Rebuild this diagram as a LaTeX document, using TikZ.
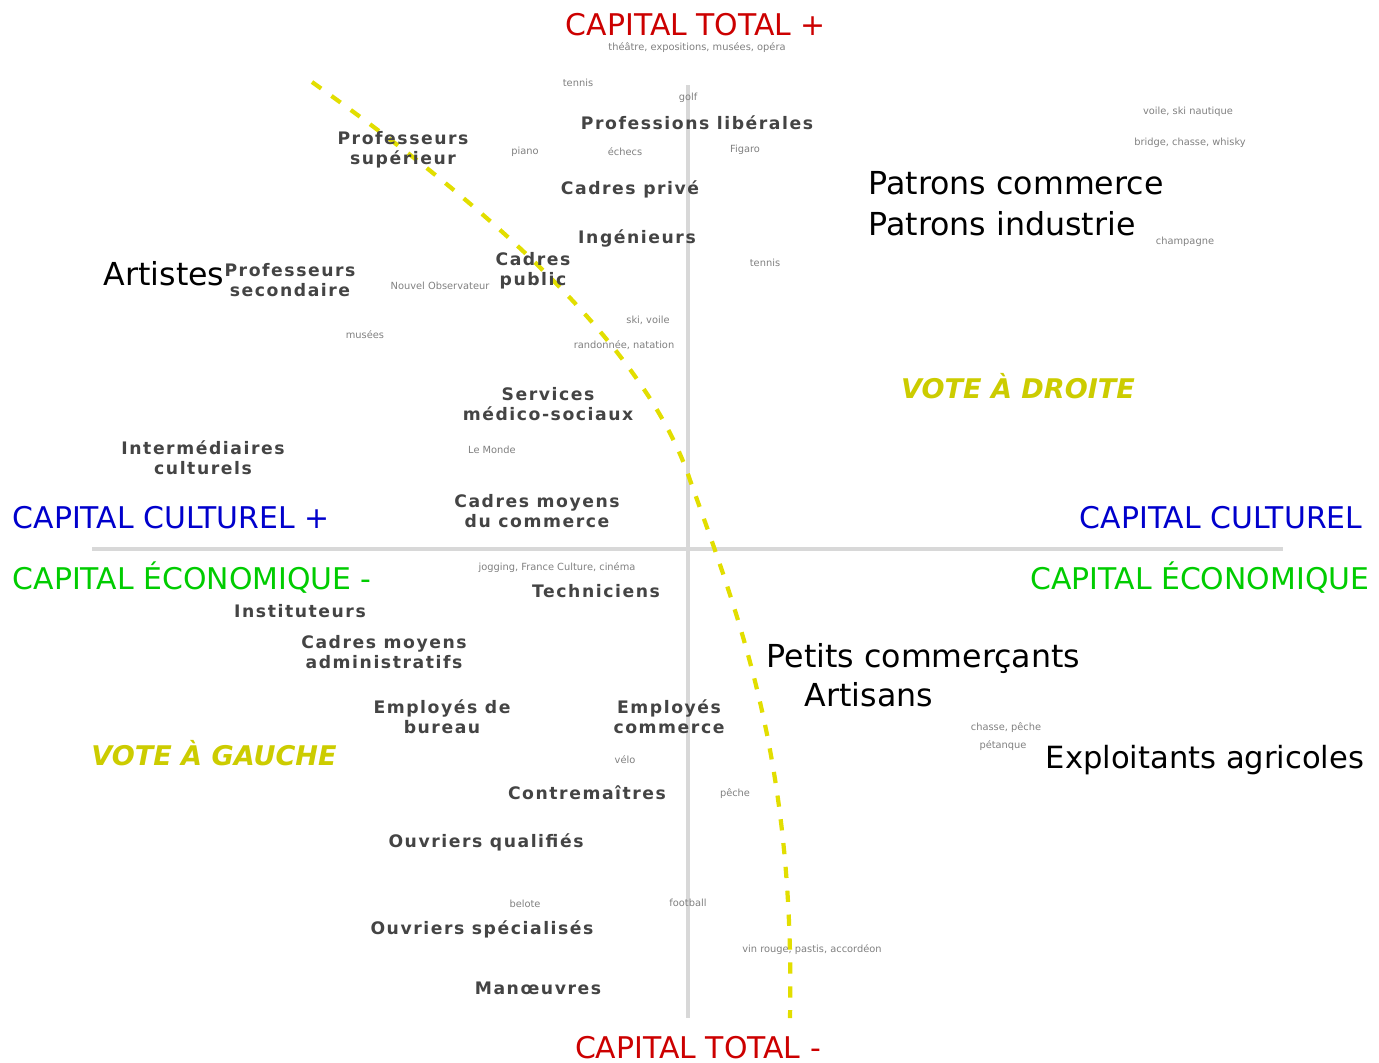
\documentclass[tikz,border=0pt]{standalone}
\usepackage{fontspec}
\setmainfont{DejaVu Sans}
\definecolor{capred}{HTML}{CC0000}
\definecolor{capblue}{HTML}{0000CC}
\definecolor{capgreen}{HTML}{00CC00}
\definecolor{votey}{HTML}{CCCC00}
\definecolor{dashy}{HTML}{E2DE00}
\definecolor{axisgray}{HTML}{D8D8D8}
\definecolor{labgray}{HTML}{444444}
\definecolor{tinygray}{HTML}{808080}
\begin{document}
\begin{tikzpicture}[x=0.01cm,y=-0.01cm,
  pole/.style={font=\fontsize{8.5}{10}\selectfont,inner sep=0pt},
  vote/.style={font=\fontsize{7.7}{9}\selectfont\bfseries\itshape,text=votey,inner sep=0pt},
  big/.style={font=\fontsize{9}{10}\selectfont,text=black,inner sep=0pt},
  prof/.style={font=\fontsize{4.9}{5.6}\selectfont\bfseries\addfontfeature{LetterSpace=9},text=labgray,align=center,inner sep=0pt},
  tiny/.style={font=\fontsize{2.8}{4}\selectfont,text=tinygray,inner sep=0pt}]
\useasboundingbox (0,0) rectangle (1379,1062);
% axes
\coordinate (ytop) at (688,85);
\coordinate (ybot) at (688,1018);
\coordinate (xleft) at (92,549);
\coordinate (xright) at (1283,549);
\draw [axisgray,line width=1.1pt] (ytop) -- (ybot); %capital total
\draw [axisgray,line width=1.1pt] (xleft) -- (xright); %structure du capital
% left / right divide
\draw [dashy,line width=1.2pt,dash pattern=on 3.2pt off 3.6pt]
  (312,82) .. controls (450,180) and (640,330) .. (690,480)
  .. controls (740,620) and (795,760) .. (790,1018);
% poles
\node [pole,text=capred] (ctplus) at (696,25) {CAPITAL TOTAL +};
\node [pole,text=capred] (ctmoins) at (698,1048) {CAPITAL TOTAL -};
\node [pole,text=capblue,anchor=west] (ccplus) at (12,518) {CAPITAL CULTUREL +};
\node [pole,text=capblue,anchor=east] (ccmoins) at (1363,518) {CAPITAL CULTUREL};
\node [pole,text=capgreen,anchor=west] (ceplus) at (12,578) {CAPITAL ÉCONOMIQUE -};
\node [pole,text=capgreen,anchor=east] (cemoins) at (1370,578) {CAPITAL ÉCONOMIQUE};
\node [vote] (droite) at (1018,386) {VOTE À DROITE};
\node [vote] (gauche) at (214,753) {VOTE À GAUCHE};
% professions
\node [prof] (liberales) at (697,123) {Professions libérales};
\node [prof] (profsup) at (403,150) {Professeurs\\supérieur};
\node [prof] (cprive) at (630,189) {Cadres privé};
\node [big,anchor=west] (patcom) at (868,183) {Patrons commerce};
\node [big,anchor=west] (patind) at (868,224) {Patrons industrie};
\node [prof] (inge) at (637,238) {Ingénieurs};
\node [big,anchor=west] (artistes) at (103,274) {Artistes};
\node [prof] (profsec) at (290,280) {Professeurs\\secondaire};
\node [prof] (cpublic) at (533,271) {Cadres\\public};
\node [prof] (medsoc) at (548,404) {Services\\médico-sociaux};
\node [prof] (interm) at (203,458) {Intermédiaires\\culturels};
\node [prof] (cmcom) at (537,511) {Cadres moyens\\du commerce};
\node [prof] (techn) at (596,591) {Techniciens};
\node [prof] (instit) at (300,611) {Instituteurs};
\node [prof] (cmadm) at (384,652) {Cadres moyens\\administratifs};
\node [big,anchor=west] (petcom) at (766,658) {Petits commerçants};
\node [big,anchor=west] (artisans) at (804,695) {Artisans};
\node [prof] (empbur) at (442,717) {Employés de\\bureau};
\node [prof] (empcom) at (669,717) {Employés\\commerce};
\node [big,anchor=west,font=\fontsize{8.7}{10}\selectfont] (exploit) at (1045,760) {Exploitants agricoles};
\node [prof] (contrem) at (587,793) {Contremaîtres};
\node [prof] (ouvq) at (486,842) {Ouvriers qualifiés};
\node [prof] (ouvs) at (482,929) {Ouvriers spécialisés};
\node [prof] (manoeuvres) at (538,988) {Manœuvres};
% pratiques
\node [tiny] (t1) at (697,48) {théâtre, expositions, musées, opéra};
\node [tiny] (t2) at (578,83) {tennis};
\node [tiny] (t3) at (688,98) {golf};
\node [tiny] (t4) at (1188,112) {voile, ski nautique};
\node [tiny] (t5) at (1190,143) {bridge, chasse, whisky};
\node [tiny] (t6) at (525,152) {piano};
\node [tiny] (t7) at (625,152) {échecs};
\node [tiny] (t8) at (745,150) {Figaro};
\node [tiny] (t9) at (1185,242) {champagne};
\node [tiny] (t10) at (765,263) {tennis};
\node [tiny] (t11) at (440,286) {Nouvel Observateur};
\node [tiny] (t12) at (365,335) {musées};
\node [tiny] (t13) at (648,320) {ski, voile};
\node [tiny] (t14) at (624,345) {randonnée, natation};
\node [tiny] (t15) at (492,450) {Le Monde};
\node [tiny] (t16) at (557,568) {jogging, France Culture, cinéma};
\node [tiny] (t17) at (1006,728) {chasse, pêche};
\node [tiny] (t18) at (1003,746) {pétanque};
\node [tiny] (t19) at (625,760) {vélo};
\node [tiny] (t20) at (735,794) {pêche};
\node [tiny] (t21) at (525,904) {belote};
\node [tiny] (t22) at (688,903) {football};
\node [tiny] (t23) at (812,950) {vin rouge, pastis, accordéon};
\end{tikzpicture}
\end{document}
